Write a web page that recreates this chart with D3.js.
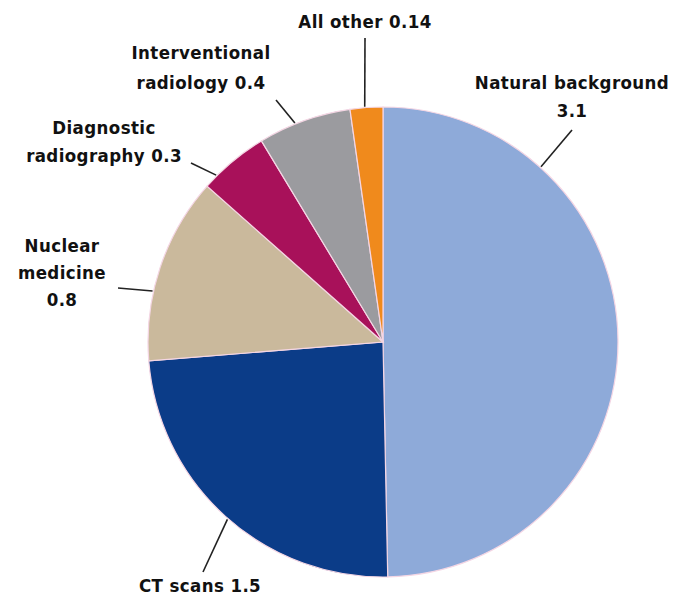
<!DOCTYPE html>
<html>
<head>
<meta charset="utf-8">
<script src="https://cdn.jsdelivr.net/npm/d3@7"></script>
<style>
  html, body { margin: 0; padding: 0; background: #fff; }
  svg { display: block; }
  .lbl { font-family: "Liberation Sans Narrow", "DejaVu Sans Condensed", "Arial Narrow", sans-serif; font-weight: bold; font-size: 18.5px; letter-spacing: 0.4px; fill: #111; }
</style>
</head>
<body>
<svg id="chart" width="681" height="602"></svg>
<script>
// Annual radiation dose by source (mSv), clockwise from 12 o'clock
const sources = ["Natural background", "CT scans", "Nuclear medicine", "Diagnostic radiography", "Interventional radiology", "All other"];
const doses = [3.1, 1.5, 0.8, 0.3, 0.4, 0.14];
const sliceColors = ["#8eaad9", "#0b3c88", "#cab99c", "#a8115a", "#9b9b9f", "#f08a1c"];
const labelLines = [
  ["Natural background", "3.1"],
  ["CT scans 1.5"],
  ["Nuclear", "medicine", "0.8"],
  ["Diagnostic", "radiography 0.3"],
  ["Interventional", "radiology 0.4"],
  ["All other 0.14"]
];

// Label placement: text anchor, first baseline, line gap, leader end near
// the text, and where along the slice (0..1) the leader touches the rim
const labelLayout = [
  { x: 572, y: 89,  gap: 28, anchor: "middle", lx: 572, ly: 130, t: 0.235 },
  { x: 200, y: 592, gap: 28, anchor: "middle", lx: 203, ly: 572, t: 0.49 },
  { x: 62,  y: 252, gap: 27, anchor: "middle", lx: 118, ly: 288, t: 0.37 },
  { x: 104, y: 134, gap: 28, anchor: "middle", lx: 191, ly: 163, t: 0.2 },
  { x: 201, y: 59,  gap: 30, anchor: "middle", lx: 276, ly: 100, t: 0.4 },
  { x: 365, y: 28,  gap: 28, anchor: "middle", lx: 365, ly: 38,  t: 0.45 }
];

const cx = 383, cy = 342, radius = 235;
const svg = d3.select("#chart");
const g = svg.append("g").attr("transform", `translate(${cx},${cy})`);

const pie = d3.pie().sort(null).value(d => d)(doses);
const arc = d3.arc().innerRadius(0).outerRadius(radius);

g.selectAll("path.slice")
  .data(pie)
  .join("path")
  .attr("class", "slice")
  .attr("d", arc)
  .attr("fill", (d, i) => sliceColors[i])
  .attr("stroke", "#f4d6e4")
  .attr("stroke-width", 1.2);

// Leader lines from the rim out to each label
pie.forEach((d, i) => {
  const L = labelLayout[i];
  const a = d.startAngle + (d.endAngle - d.startAngle) * L.t;
  const rx = cx + Math.sin(a) * (radius + 1);
  const ry = cy - Math.cos(a) * (radius + 1);
  svg.append("line")
    .attr("x1", rx).attr("y1", ry)
    .attr("x2", L.lx).attr("y2", L.ly)
    .attr("stroke", "#222")
    .attr("stroke-width", 1.6);
});

// Labels
labelLines.forEach((lines, i) => {
  const L = labelLayout[i];
  const t = svg.append("text")
    .attr("class", "lbl")
    .attr("text-anchor", L.anchor)
    .attr("x", L.x).attr("y", L.y);
  lines.forEach((s, k) => {
    t.append("tspan")
      .attr("x", L.x)
      .attr("dy", k === 0 ? 0 : L.gap)
      .text(s);
  });
});
</script>
</body>
</html>
